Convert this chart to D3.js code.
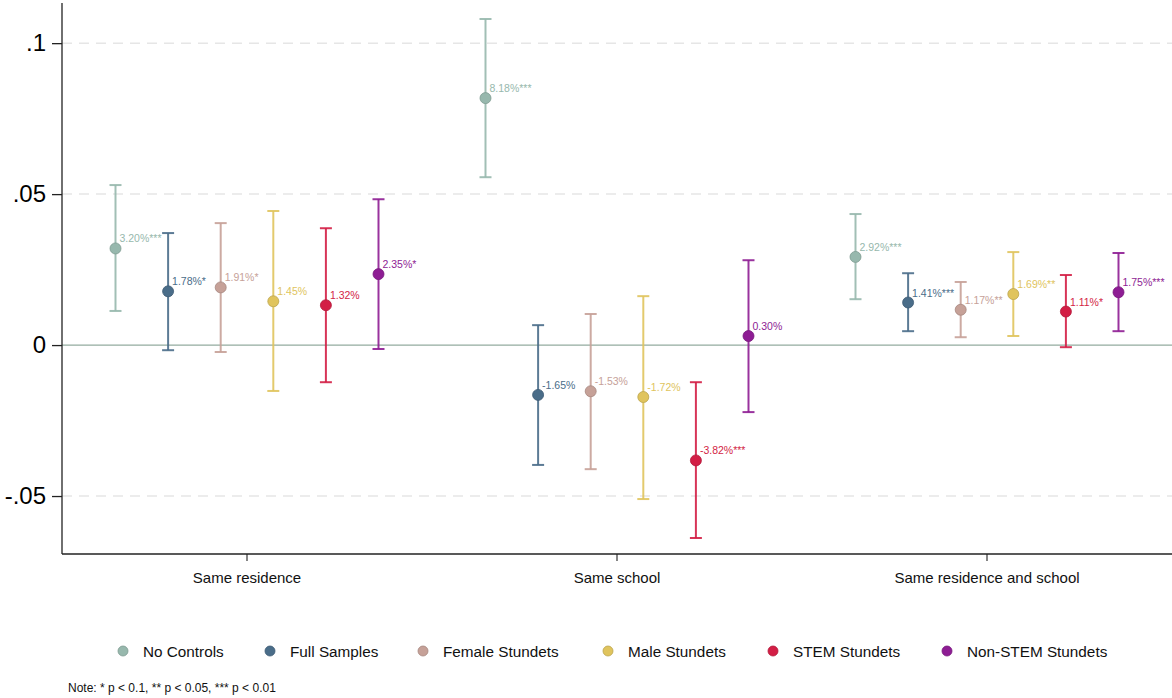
<!DOCTYPE html>
<html>
<head>
<meta charset="utf-8">
<script src="https://cdn.jsdelivr.net/npm/d3@7"></script>
<style>
  html, body { margin: 0; padding: 0; background: #fff; }
  svg { display: block; font-family: "Liberation Sans", Arial, Helvetica, sans-serif; }
</style>
</head>
<body>
<svg id="chart" width="1172" height="698"></svg>
<script>
// Outcome categories along the x axis
const categories = ["Same residence", "Same school", "Same residence and school"];

// Sample specifications (one marker per category each)
const seriesNames = ["No Controls", "Full Samples", "Female Stundets", "Male Stundets", "STEM Stundets", "Non-STEM Stundets"];
const seriesColors = ["#97b8ad", "#4a6d89", "#c6a198", "#e0c45d", "#d31e45", "#8e1d94"];

// Point estimates, per series, in category order
const estimates = [
  [0.0320, 0.0818, 0.0292],
  [0.0178, -0.0165, 0.0141],
  [0.0191, -0.0153, 0.0117],
  [0.0145, -0.0172, 0.0169],
  [0.0132, -0.0382, 0.0111],
  [0.0235, 0.0030, 0.0175]
];

// 95% confidence bounds
const lowerCI = [
  [0.0113, 0.0556, 0.0152],
  [-0.0017, -0.0397, 0.0046],
  [-0.0023, -0.0411, 0.0026],
  [-0.0152, -0.0510, 0.0030],
  [-0.0123, -0.0639, -0.0007],
  [-0.0013, -0.0222, 0.0046]
];
const upperCI = [
  [0.0530, 0.1080, 0.0434],
  [0.0371, 0.0066, 0.0238],
  [0.0404, 0.0103, 0.0209],
  [0.0444, 0.0162, 0.0308],
  [0.0387, -0.0123, 0.0232],
  [0.0483, 0.0281, 0.0305]
];

// Significance stars attached to each estimate label
const stars = [
  ["***", "***", "***"],
  ["*", "", "***"],
  ["*", "", "**"],
  ["", "", "**"],
  ["", "***", "*"],
  ["*", "", "***"]
];

const yTicks = [-0.05, 0, 0.05, 0.1];
const yTickLabels = ["-.05", "0", ".05", ".1"];
const noteText = "Note: * p < 0.1, ** p < 0.05, *** p < 0.01";

const svg = d3.select("#chart");
const plot = { left: 62, right: 1172, top: 3, bottom: 554 };

const x = d3.scaleBand().domain(categories).range([plot.left, plot.right]).padding(0);
const offset = d3.scalePoint().domain(seriesNames).range([-131.5, 131.5]);
const y = d3.scaleLinear().domain([-0.0692, 0.1133]).range([plot.bottom, plot.top]);

// Horizontal reference lines
const grid = svg.append("g");
yTicks.filter(t => t !== 0).forEach(t => {
  grid.append("line")
    .attr("x1", plot.left).attr("x2", plot.right)
    .attr("y1", y(t)).attr("y2", y(t))
    .attr("stroke", "#e6e6e6").attr("stroke-width", 1.5)
    .attr("stroke-dasharray", "10,7");
});
grid.append("line")
  .attr("x1", plot.left).attr("x2", plot.right)
  .attr("y1", y(0)).attr("y2", y(0))
  .attr("stroke", "#93ab9f").attr("stroke-width", 1.2);

// Y axis
const yAxis = svg.append("g")
  .attr("transform", `translate(${plot.left},0)`)
  .call(d3.axisLeft(y).tickValues(yTicks).tickFormat((d, i) => yTickLabels[i]).tickSize(10).tickPadding(6));
yAxis.select(".domain").attr("d", `M0,${plot.top}V${plot.bottom}`).attr("stroke", "#222").attr("stroke-width", 1.3);
yAxis.selectAll(".tick line").attr("stroke", "#222").attr("stroke-width", 1.3);
yAxis.selectAll(".tick text").attr("font-size", 24).attr("fill", "#000")
  .attr("font-family", "'Liberation Sans', Arial, sans-serif");

// X axis
const xAxis = svg.append("g")
  .attr("transform", `translate(0,${plot.bottom})`)
  .call(d3.axisBottom(x).tickSize(7).tickPadding(11));
xAxis.select(".domain").attr("d", `M${plot.left},0H${plot.right}`).attr("stroke", "#222").attr("stroke-width", 1.5);
xAxis.selectAll(".tick line").attr("stroke", "#222").attr("stroke-width", 1.1);
xAxis.selectAll(".tick text").attr("font-size", 15).attr("fill", "#111")
  .attr("font-family", "'Liberation Sans', Arial, sans-serif");

// Estimates with confidence intervals
const rows = [];
seriesNames.forEach((s, si) => {
  categories.forEach((c, ci) => {
    rows.push({
      series: s, si, cat: c,
      est: estimates[si][ci], lo: lowerCI[si][ci], hi: upperCI[si][ci],
      star: stars[si][ci], color: seriesColors[si]
    });
  });
});
const px = d => x(d.cat) + x.bandwidth() / 2 + offset(d.series);

const marks = svg.append("g").selectAll("g").data(rows).join("g");
marks.append("line")
  .attr("x1", px).attr("x2", px)
  .attr("y1", d => y(d.lo)).attr("y2", d => y(d.hi))
  .attr("stroke", d => d.color).attr("stroke-width", 2).attr("stroke-opacity", 0.9);
["lo", "hi"].forEach(k => {
  marks.append("line")
    .attr("x1", d => px(d) - 6).attr("x2", d => px(d) + 6)
    .attr("y1", d => y(d[k])).attr("y2", d => y(d[k]))
    .attr("stroke", d => d.color).attr("stroke-width", 2).attr("stroke-opacity", 0.9);
});
marks.append("circle")
  .attr("cx", px).attr("cy", d => y(d.est)).attr("r", 5.5)
  .attr("fill", d => d.color)
  .attr("stroke", d => d3.color(d.color).darker(0.5)).attr("stroke-width", 0.8);
marks.append("text")
  .attr("x", d => px(d) + 4)
  .attr("y", d => y(d.est) - 6)
  .attr("font-size", 10.5)
  .attr("fill", d => d.color)
  .text(d => (d.est * 100).toFixed(2) + "%" + d.star);

// Legend
const legendX = [123, 270, 423, 608, 773, 947];
const legend = svg.append("g").selectAll("g").data(seriesNames).join("g")
  .attr("transform", (d, i) => `translate(${legendX[i]},651)`);
legend.append("circle").attr("r", 5)
  .attr("fill", (d, i) => seriesColors[i])
  .attr("stroke", (d, i) => d3.color(seriesColors[i]).darker(0.5)).attr("stroke-width", 0.8);
legend.append("text").attr("x", 20).attr("y", 5.5)
  .attr("font-size", 15.3).attr("fill", "#111").text(d => d);

// Footnote
svg.append("text").attr("x", 68).attr("y", 692)
  .attr("font-size", 12).attr("fill", "#111").text(noteText);
</script>
</body>
</html>
